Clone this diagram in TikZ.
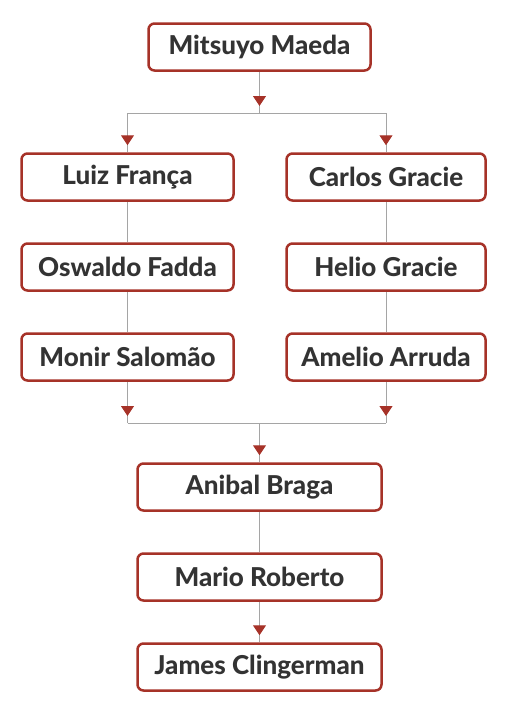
\documentclass[tikz,border=0pt]{standalone}
\usepackage{fontspec}
\setmainfont{Lato}[BoldFont={Lato Heavy}]
\usetikzlibrary{arrows.meta,decorations.markings}
\definecolor{beltred}{RGB}{166,50,40}
\definecolor{linegray}{RGB}{165,165,165}
\definecolor{textgray}{RGB}{51,51,51}

\begin{document}
\begin{tikzpicture}[x=1pt, y=1pt, node distance=90pt]
% Define styles
\tikzstyle{person} = [rectangle, rounded corners=6pt, minimum height=47pt, text centered, draw=beltred, line width=2.5pt, fill=white, text=textgray, font=\fontsize{26}{30}\selectfont\bfseries]
\tikzstyle{link} = [draw=linegray, line width=1pt]
\tikzstyle{flow} = [link, postaction={decorate}, decoration={markings, mark=at position -7pt with {\arrow[beltred]{Triangle[width=13pt,length=10pt]}}}]

\useasboundingbox (0,0) rectangle (506,-720);

% Place nodes
\node [person, minimum width=222pt] (maeda) at (259.5,-47) {Mitsuyo Maeda};
\node [person, minimum width=212pt] (franca) at (127.5,-177) {Luiz França};
\node [person, minimum width=212pt, below of=franca] (fadda) {Oswaldo Fadda};
\node [person, minimum width=212pt, below of=fadda] (salomao) {Monir Salomão};
\node [person, minimum width=199pt] (carlos) at (386,-177) {Carlos Gracie};
\node [person, minimum width=199pt, below of=carlos] (helio) {Helio Gracie};
\node [person, minimum width=199pt, below of=helio] (arruda) {Amelio Arruda};
\node [person, minimum width=244pt] (braga) at (259.5,-487) {Anibal Braga};
\node [person, minimum width=244pt, below of=braga] (mario) {Mario Roberto};
\node [person, minimum width=244pt, below of=mario] (james) {James Clingerman};

\coordinate (split) at (259.5,-113);
\coordinate (merge) at (259.5,-423);

% Draw arrows
\draw [flow] (maeda) -- (split);
\draw [link] (split -| franca) -- (split -| carlos);
\draw [flow] (split -| franca) -- (franca);
\draw [flow] (split -| carlos) -- (carlos);
\draw [link] (franca) -- (fadda);
\draw [link] (fadda) -- (salomao);
\draw [link] (carlos) -- (helio);
\draw [link] (helio) -- (arruda);
\draw [flow] (salomao) -- (merge -| salomao);
\draw [flow] (arruda) -- (merge -| arruda);
\draw [link] (merge -| salomao) -- (merge -| arruda);
\draw [flow] (merge) -- (braga);
\draw [link] (braga) -- (mario);
\draw [flow] (mario) -- (james);
\end{tikzpicture}
\end{document}
